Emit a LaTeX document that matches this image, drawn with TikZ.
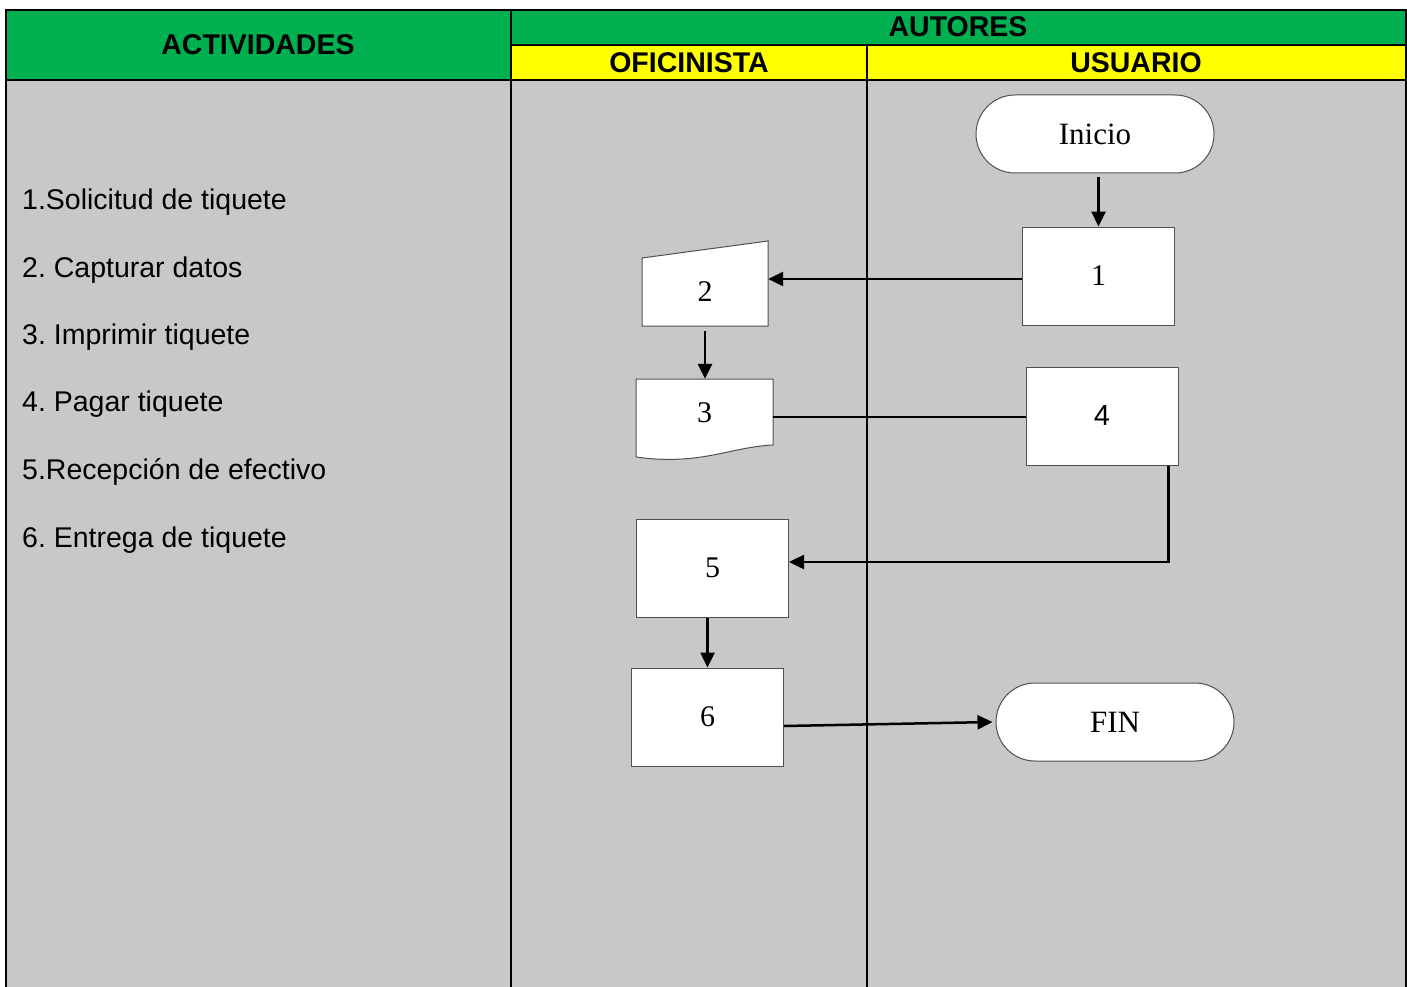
\documentclass[tikz,border=0pt]{standalone}
\usepackage{fontspec}
\setmainfont{Liberation Serif}
\newfontfamily\arial{Liberation Sans}
\usetikzlibrary{arrows.meta}
\frenchspacing
\definecolor{hgreen}{RGB}{0,176,80}
\definecolor{hyellow}{RGB}{255,255,0}
\definecolor{bodygray}{RGB}{200,200,200}
\definecolor{shapeline}{RGB}{80,80,80}
\tikzset{
  grid/.style={draw=black,line width=2pt},
  hdr/.style={font=\arial\bfseries\fontsize{28.5}{34}\selectfont,anchor=base,inner sep=0pt},
  item/.style={font=\arial\fontsize{28.5}{34}\selectfont,anchor=base west,inner sep=0pt},
  procbox/.style={draw=shapeline,fill=white,line width=1pt,minimum width=152pt,minimum height=98pt,inner sep=0pt,font=\fontsize{30}{36}\selectfont},
  termbox/.style={draw=shapeline,fill=white,line width=1pt,rounded corners=39pt,minimum width=238pt,minimum height=78pt,inner sep=0pt,font=\fontsize{31}{36}\selectfont},
  plain/.style={inner sep=0pt,font=\fontsize{30}{36}\selectfont},
  arr/.style={line width=2.5pt,-{Triangle[length=15pt,width=14pt]}},
  conn/.style={line width=2.5pt},
}
\begin{document}
\begin{tikzpicture}[x=1pt,y=-1pt]
\useasboundingbox (0,0) rectangle (1407,987);
% backgrounds
\fill[bodygray] (6,80) rectangle (1406,987);
\fill[hgreen] (6,10) rectangle (1406,45);
\fill[hgreen] (6,45) rectangle (511,80);
\fill[hyellow] (511,45) rectangle (1406,80);
% grid lines
\draw[grid] (6,987) -- (6,10) -- (1406,10) -- (1406,987);
\draw[grid] (6,80) -- (1406,80);
\draw[grid] (511,45) -- (1406,45);
\draw[grid] (511,10) -- (511,987);
\draw[grid] (867,45) -- (867,987);
% header texts
\node[hdr] (hact) at (258,55) {ACTIVIDADES};
\node[hdr] (haut) at (958,37) {AUTORES};
\node[hdr] (hofi) at (689,73) {OFICINISTA};
\node[hdr] (husu) at (1136,73) {USUARIO};
% activity list
\node[item] (a1) at (22,209) {1.Solicitud de tiquete};
\node[item] (a2) at (22,277) {2. Capturar datos};
\node[item] (a3) at (22,344) {3. Imprimir tiquete};
\node[item] (a4) at (22,411) {4. Pagar tiquete};
\node[item] (a5) at (22,479) {5.Recepción de efectivo};
\node[item] (a6) at (22,547) {6. Entrega de tiquete};
% shapes drawn directly: manual input (2) and document (3)
\filldraw[draw=shapeline,fill=white,line width=1pt] (642,326) -- (642,258) -- (768,241) -- (768,326) -- cycle;
\filldraw[draw=shapeline,fill=white,line width=1pt] (636,379) -- (773,379) -- (773,445)
  .. controls (730,447) and (700,466) .. (636,457) -- cycle;
% nodes
\node[termbox] (ini) at (1095,134) {Inicio};
\node[procbox] (b1) at (1098.5,276) {\raisebox{0pt}{1}};
\node[plain,minimum width=126pt,minimum height=68pt] (b2) at (705,292) {2};
\node[plain,minimum width=137pt,minimum height=68pt] (b3) at (704.5,413) {3};
\node[procbox,font=\arial\fontsize{29}{34}\selectfont] (b4) at (1102,416) {4};
\node[procbox] (b5) at (712.5,568) {5};
\node[procbox] (b6) at (707.5,717) {6};
\node[termbox] (fin) at (1115,722) {FIN};
% connectors
\draw[arr,shorten <=4pt] (b1.north |- ini.south) -- (b1.north);
\draw[arr] ([yshift=-3pt]b1.west) -- ([yshift=-3pt]b1.west -| b2.east);
\draw[arr,shorten <=5pt] (b2.south) -- (b2.south |- b3.north);
\draw[conn] ([yshift=-1pt]b4.west) -- ([yshift=-1pt]b4.west -| b3.east);
\draw[arr] ([xshift=-10pt]b4.south east) |- ([yshift=6pt]b5.east);
\draw[arr] (b6.north |- b5.south) -- (b6.north);
\draw[arr] ([yshift=-9pt]b6.east) -- ([xshift=-3pt]fin.west);
\end{tikzpicture}
\end{document}
